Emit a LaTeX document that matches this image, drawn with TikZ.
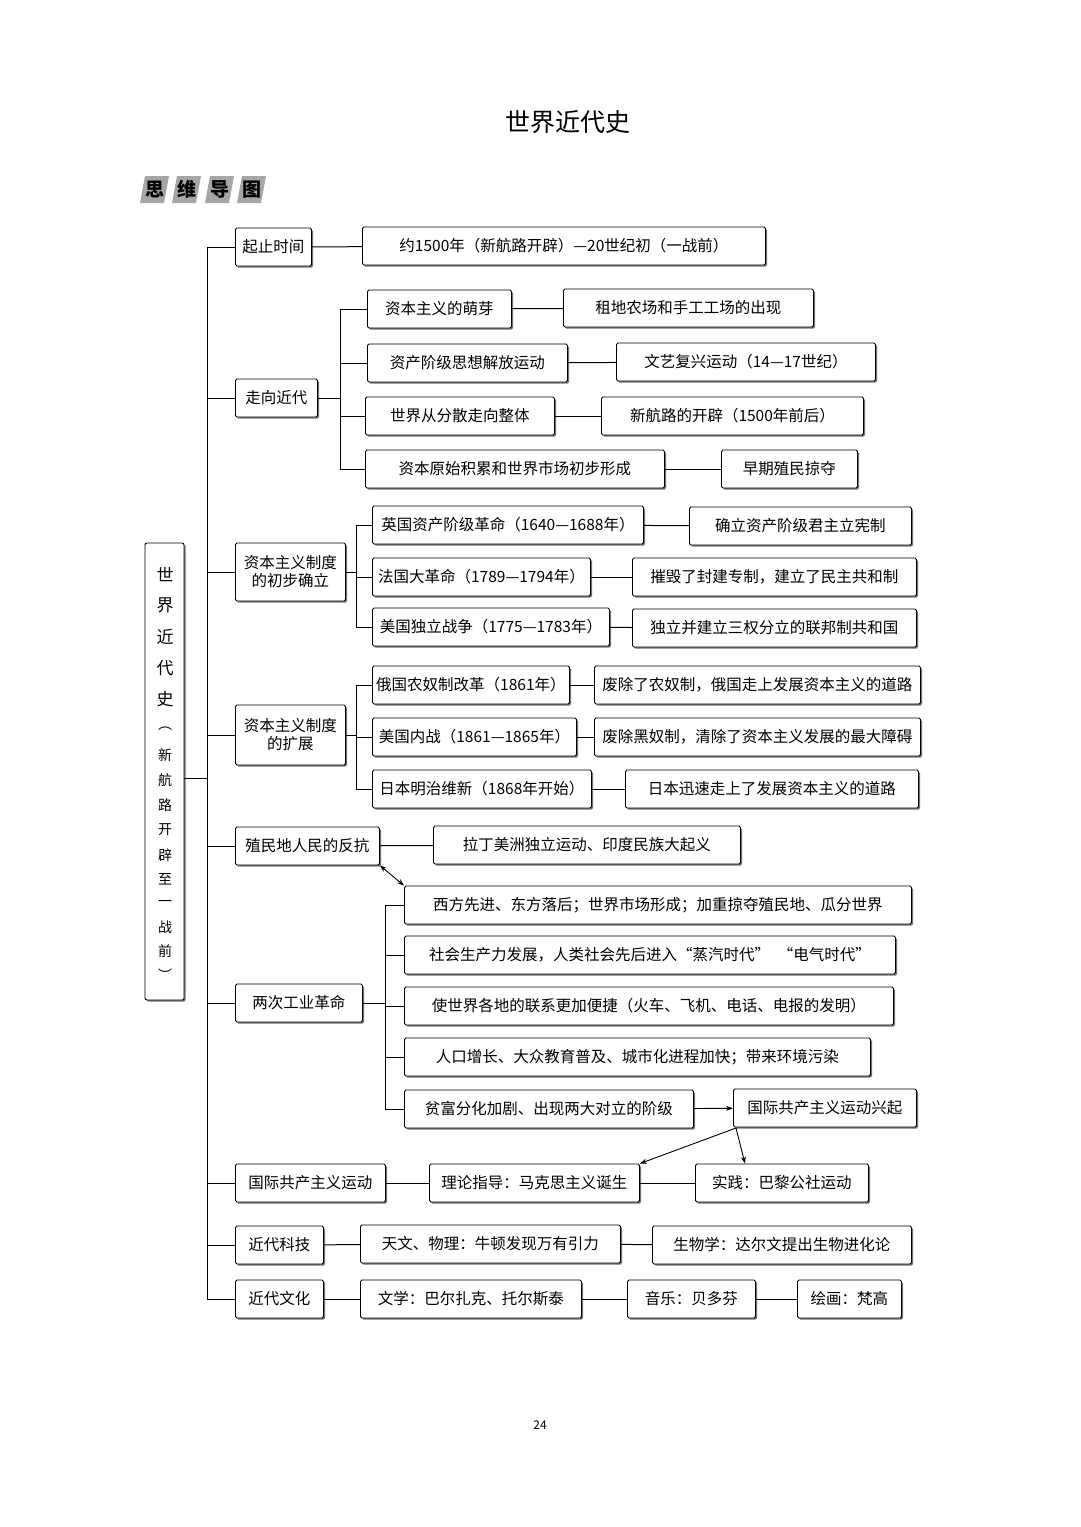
\documentclass[tikz,border=0pt]{standalone}
\usepackage{fontspec}
\setmainfont{Noto Sans CJK SC}
\usetikzlibrary{shadows,arrows.meta}
\tikzset{
 box/.style={draw, line width=0.9pt, rounded corners=1.5pt, fill=white, inner xsep=3pt, minimum height=38pt,
   font=\fontsize{15.5}{18}\selectfont, align=center,
   drop shadow={shadow xshift=1.6pt, shadow yshift=-1.6pt, fill=black!55, opacity=1}},
 ln/.style={line width=1pt},
 ar/.style={line width=0.9pt, -{Stealth[length=7pt,width=5pt]}},
}
\newcommand{\bx}[5]{\node[box, anchor=west, minimum width={#3pt-#2pt}] (#1) at (#2,#4) {#5};}
\begin{document}
\begin{tikzpicture}[x=1pt,y=-1pt]
\useasboundingbox (0,0) rectangle (1080,1527);
\node[font=\fontsize{25}{28}\selectfont] (title) at (568,122) {世界近代史};
\node[font=\fontsize{12}{14}\selectfont] (pg) at (540,1425) {24};
% header
\foreach \x/\c [count=\i] in {140/思,172/维,205/导,237/图}{
  \fill[black!35] (\x,203) -- (\x+5,176) -- (\x+29,176) -- (\x+24,203) -- cycle;
  \node[font=\fontsize{19}{20}\selectfont\bfseries] (h\i) at (\x+14.5,189.5) {\c};
}
% main box
\node[draw, line width=0.9pt, rounded corners=2pt, minimum width=39pt, minimum height=457pt,
  drop shadow={shadow xshift=1.6pt, shadow yshift=-1.6pt, fill=black!55, opacity=1}, fill=white] (main) at (164.5,771.5) {};
\foreach \c/\y [count=\i] in {世/575,界/605,近/637,代/668,史/699}{
  \node[font=\fontsize{17}{18}\selectfont] (m\i) at (165,\y) {\c};}
\foreach \c/\y [count=\i] in {︵/729,新/755,航/780,路/805,开/830,辟/855,至/879,一/903,战/927,前/951,︶/975}{
  \node[font=\fontsize{14}{15}\selectfont] (n\i) at (165,\y) {\c};}
\coordinate (T) at (207,247);
\coordinate (B) at (207,1299);
\draw[ln] (T) -- (B);
\draw[ln] (main.east |- 0,778) coordinate (me) -- (me -| T);
% level 1
\bx{a}{235}{311}{247}{起止时间}
\bx{b}{235}{317}{398}{走向近代}
\node[box, anchor=west, minimum width=110pt, minimum height=58pt] (c) at (235,572) {资本主义制度\\的初步确立};
\node[box, anchor=west, minimum width=110pt, minimum height=60pt] (d) at (235,735) {资本主义制度\\的扩展};
\bx{e}{235}{379}{846}{殖民地人民的反抗}
\bx{f}{235}{362}{1003}{两次工业革命}
\bx{g}{235}{385}{1183}{国际共产主义运动}
\bx{h}{235}{323}{1245}{近代科技}
\bx{i}{235}{323}{1299}{近代文化}
\foreach \n in {a,b,c,d,e,f,g,h,i}{\draw[ln] (\n.west) -- (\n.west -| T);}
% 起止
\bx{a1}{362}{765}{246}{约1500年（新航路开辟）—20世纪初（一战前）}
\draw[ln] (a) -- (a1);
% 走向近代
\bx{b1}{367}{511}{309}{资本主义的萌芽}
\bx{b1r}{563}{813}{308}{租地农场和手工工场的出现}
\bx{b2}{367}{567}{363}{资产阶级思想解放运动}
\bx{b2r}{616}{875}{362}{文艺复兴运动（14—17世纪）}
\bx{b3}{365}{554}{416}{世界从分散走向整体}
\bx{b3r}{601}{863}{416}{新航路的开辟（1500年前后）}
\bx{b4}{365}{664}{469}{资本原始积累和世界市场初步形成}
\bx{b4r}{721}{857}{469}{早期殖民掠夺}
\coordinate (bt) at (340,309);
\draw[ln] (b1.west -| bt) -- (b4.west -| bt);
\draw[ln] (b) -- (b.east -| bt);
\foreach \n in {b1,b2,b3,b4}{\draw[ln] (\n.west) -- (\n.west -| bt); \draw[ln] (\n) -- (\n r);}
% 初步确立
\bx{c1}{372}{643}{525}{英国资产阶级革命（1640—1688年）}
\bx{c1r}{689}{911}{526}{确立资产阶级君主立宪制}
\bx{c2}{372}{590}{577}{法国大革命（1789—1794年）}
\bx{c2r}{632}{916}{577}{摧毁了封建专制，建立了民主共和制}
\bx{c3}{372}{609}{627}{美国独立战争（1775—1783年）}
\bx{c3r}{632}{916}{628}{独立并建立三权分立的联邦制共和国}
\coordinate (ct) at (356,525);
\draw[ln] (c1.west -| ct) -- (c3.west -| ct);
\draw[ln] (c) -- (c.east -| ct);
\foreach \n in {c1,c2,c3}{\draw[ln] (\n.west) -- (\n.west -| ct); \draw[ln] (\n) -- (\n r);}
% 扩展
\bx{d1}{372}{569}{685}{俄国农奴制改革（1861年）}
\bx{d1r}{594}{920}{685}{废除了农奴制，俄国走上发展资本主义的道路}
\bx{d2}{372}{576}{737}{美国内战（1861—1865年）}
\bx{d2r}{594}{920}{737}{废除黑奴制，清除了资本主义发展的最大障碍}
\bx{d3}{372}{591}{789}{日本明治维新（1868年开始）}
\bx{d3r}{625}{918}{789}{日本迅速走上了发展资本主义的道路}
\draw[ln] (d1.west -| ct) -- (d3.west -| ct);
\draw[ln] (d) -- (d.east -| ct);
\foreach \n in {d1,d2,d3}{\draw[ln] (\n.west) -- (\n.west -| ct); \draw[ln] (\n) -- (\n r);}
% 殖民地
\bx{e1}{433}{740}{845}{拉丁美洲独立运动、印度民族大起义}
\draw[ln] (e) -- (e1);
% 工业革命
\bx{f1}{404}{911}{905}{西方先进、东方落后；世界市场形成；加重掠夺殖民地、瓜分世界}
\bx{f2}{404}{895}{955}{社会生产力发展，人类社会先后进入“蒸汽时代”\enspace“电气时代”}
\bx{f3}{404}{893}{1006}{使世界各地的联系更加便捷（火车、飞机、电话、电报的发明）}
\bx{f4}{404}{870}{1057}{人口增长、大众教育普及、城市化进程加快；带来环境污染}
\bx{f5}{404}{693}{1109}{贫富分化加剧、出现两大对立的阶级}
\bx{f6}{733}{916}{1108}{国际共产主义运动兴起}
\coordinate (ft) at (385,905);
\draw[ln] (f1.west -| ft) -- (f5.west -| ft);
\draw[ln] (f) -- (f.east -| ft);
\foreach \n in {f1,f2,f3,f4,f5}{\draw[ln] (\n.west) -- (\n.west -| ft);}
\draw[ar] (f5) -- (f6);
\draw[line width=0.9pt, {Stealth[length=7pt,width=5pt]}-{Stealth[length=7pt,width=5pt]}] (e.south east) -- (f1.north west);
% 国际共运
\bx{g1}{429}{639}{1183}{理论指导：马克思主义诞生}
\bx{g2}{695}{868}{1183}{实践：巴黎公社运动}
\draw[ln] (g) -- (g1); \draw[ln] (g1) -- (g2);
\coordinate (fs) at (736,1128);
\draw[ar] (fs) -- (g1.north east);
\draw[ar] (fs) -- ([xshift=50pt]g2.north west);
% 科技 文化
\bx{h1}{360}{620}{1244}{天文、物理：牛顿发现万有引力}
\bx{h2}{652}{911}{1245}{生物学：达尔文提出生物进化论}
\draw[ln] (h) -- (h1); \draw[ln] (h1) -- (h2);
\bx{i1}{360}{581}{1299}{文学：巴尔扎克、托尔斯泰}
\bx{i2}{627}{755}{1299}{音乐：贝多芬}
\bx{i3}{797}{901}{1299}{绘画：梵高}
\draw[ln] (i) -- (i1); \draw[ln] (i1) -- (i2); \draw[ln] (i2) -- (i3);
\end{tikzpicture}
\end{document}
